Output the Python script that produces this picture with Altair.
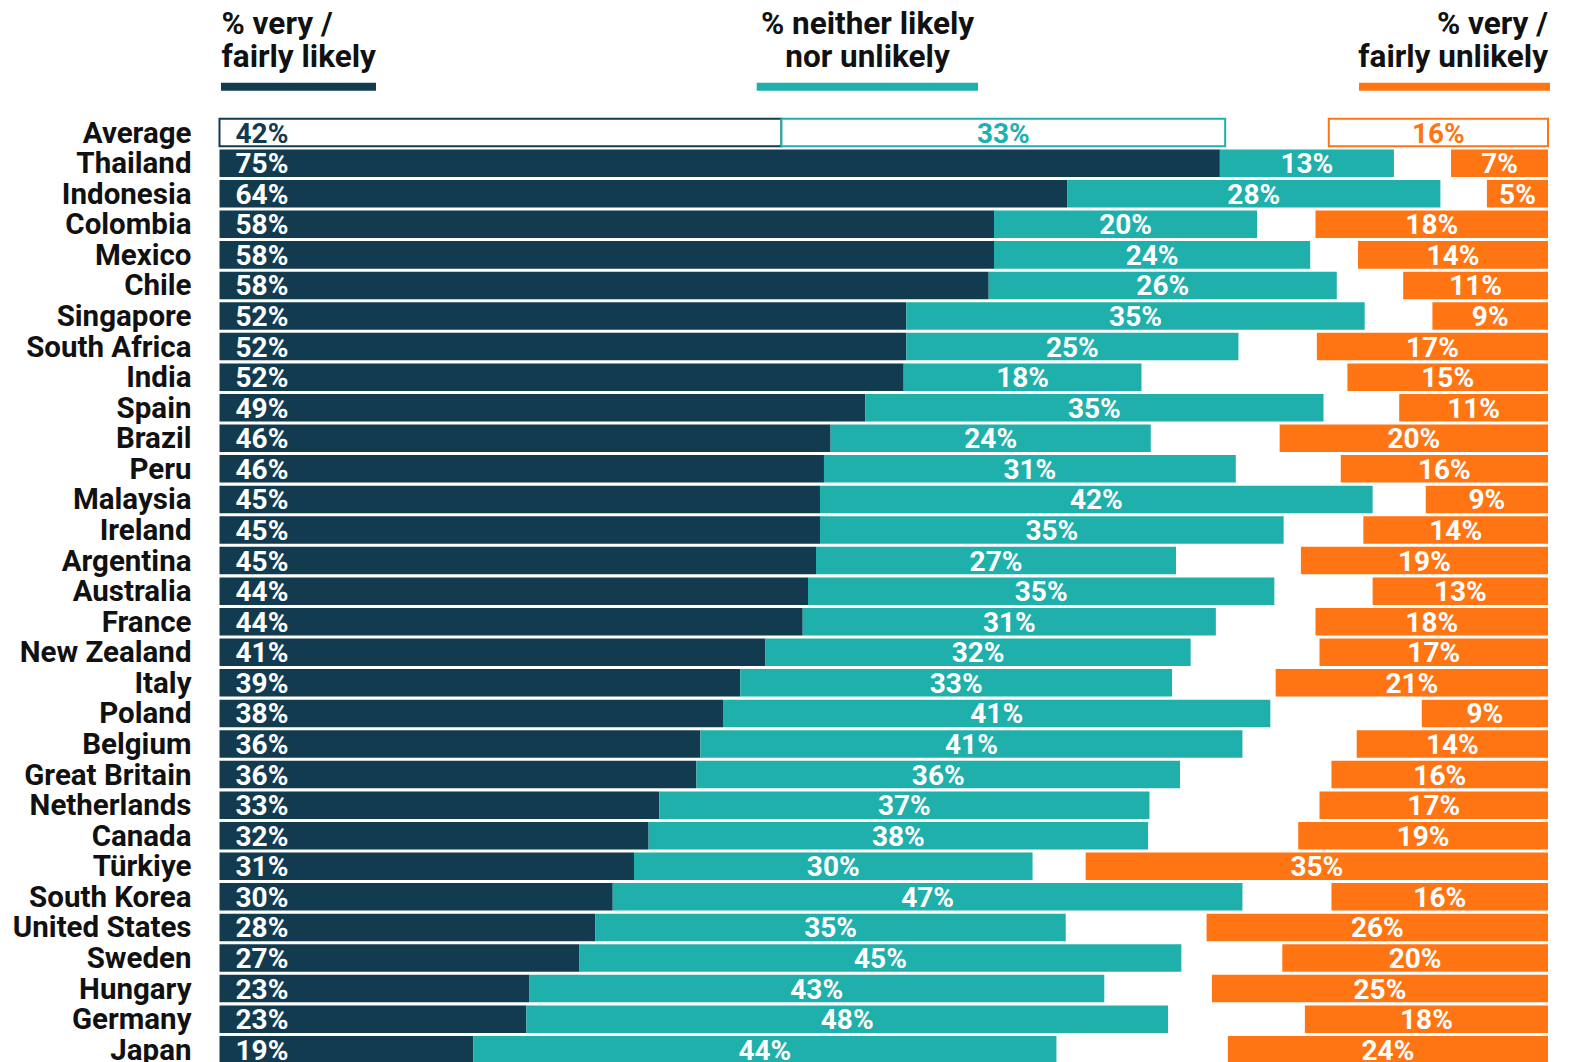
import altair as alt
import pandas as pd

NAVY = "#133b50"
TEAL = "#1fb0ac"
ORANGE = "#ff7514"
FONT = "Roboto"

countries = ["Average", "Thailand", "Indonesia", "Colombia", "Mexico", "Chile", "Singapore",
             "South Africa", "India", "Spain", "Brazil", "Peru", "Malaysia", "Ireland",
             "Argentina", "Australia", "France", "New Zealand", "Italy", "Poland", "Belgium",
             "Great Britain", "Netherlands", "Canada", "Türkiye", "South Korea",
             "United States", "Sweden", "Hungary", "Germany", "Japan"]

# bar lengths (estimated, %)
likely = [42.3, 75.3, 63.8, 58.3, 58.3, 57.9, 51.7, 51.7, 51.5, 48.6, 46.0, 45.5, 45.2, 45.2,
          44.9, 44.3, 43.9, 41.1, 39.2, 37.9, 36.2, 35.9, 33.1, 32.3, 31.2, 29.6, 28.3, 27.1,
          23.3, 23.1, 19.1]
neither = [33.4, 13.1, 28.1, 19.8, 23.8, 26.2, 34.5, 25.0, 17.9, 34.5, 24.1, 31.0, 41.6, 34.9,
           27.1, 35.1, 31.1, 32.0, 32.5, 41.2, 40.8, 36.4, 36.9, 37.6, 30.0, 47.4, 35.4, 45.3,
           43.3, 48.3, 43.9]
unlikely = [16.5, 7.3, 4.6, 17.5, 14.3, 10.9, 8.7, 17.4, 15.1, 11.2, 20.2, 15.6, 9.2, 13.9,
            18.6, 13.2, 17.5, 17.2, 20.5, 9.5, 14.4, 16.3, 17.2, 18.8, 34.8, 16.3, 25.7, 20.0,
            25.3, 18.3, 24.1]

# printed labels
likely_lbl = [42, 75, 64, 58, 58, 58, 52, 52, 52, 49, 46, 46, 45, 45, 45, 44, 44, 41, 39, 38,
              36, 36, 33, 32, 31, 30, 28, 27, 23, 23, 19]
neither_lbl = [33, 13, 28, 20, 24, 26, 35, 25, 18, 35, 24, 31, 42, 35, 27, 35, 31, 32, 33, 41,
               41, 36, 37, 38, 30, 47, 35, 45, 43, 48, 44]
unlikely_lbl = [16, 7, 5, 18, 14, 11, 9, 17, 15, 11, 20, 16, 9, 14, 19, 13, 18, 17, 21, 9, 14,
                16, 17, 19, 35, 16, 26, 20, 25, 18, 24]

header_left = ["% very /\nfairly likely"]
header_mid = ["% neither likely\nnor unlikely"]
header_right = ["% very /\nfairly unlikely"]

cats = ["likely", "neither", "unlikely"]
rows = []
for i, c in enumerate(countries):
    rows.append(dict(country=c, cat="likely", start=0.0, end=likely[i],
                     label=f"{likely_lbl[i]}%"))
    rows.append(dict(country=c, cat="neither", start=likely[i], end=likely[i] + neither[i],
                     label=f"{neither_lbl[i]}%"))
    rows.append(dict(country=c, cat="unlikely", start=100 - unlikely[i], end=100.0,
                     label=f"{unlikely_lbl[i]}%"))
df = pd.DataFrame(rows)
df["mid"] = (df["start"] + df["end"]) / 2

cscale = alt.Scale(domain=cats, range=[NAVY, TEAL, ORANGE])
is_avg = "datum.country === 'Average'"
xscale = alt.Scale(domain=[0, 100], nice=False, zero=False)
yscale = alt.Scale(paddingInner=0.1, paddingOuter=0.05)

y_axis = alt.Y("country:N", sort=countries, title=None, scale=yscale,
               axis=alt.Axis(domain=False, ticks=False, grid=False, labelPadding=28.5,
                             labelFont=FONT, labelFontSize=29.5, labelFontWeight="bold",
                             labelColor="#111111", labelLimit=400, labelBaseline="middle",
                             labelOffset=1))

bars = alt.Chart(df).mark_bar().encode(
    y=y_axis,
    x=alt.X("start:Q", scale=xscale, axis=None),
    x2="end:Q",
    fill=alt.condition(is_avg, alt.value("white"),
                       alt.Fill("cat:N", scale=cscale, legend=None)),
    stroke=alt.Stroke("cat:N", scale=cscale, legend=None),
    strokeWidth=alt.condition(is_avg, alt.value(2), alt.value(0)),
)

text_color = alt.condition(is_avg, alt.Color("cat:N", scale=cscale, legend=None),
                           alt.value("white"))
tstyle = dict(font=FONT, fontSize=28, fontWeight="bold", baseline="middle", dy=2)

left_text = alt.Chart(df).transform_filter("datum.cat === 'likely'").mark_text(
    align="left", dx=16, **tstyle).encode(
    y=y_axis, x=alt.X("start:Q", scale=xscale, axis=None),
    text="label:N", color=text_color)

mid_text = alt.Chart(df).transform_filter("datum.cat !== 'likely'").mark_text(
    align="center", **tstyle).encode(
    y=y_axis, x=alt.X("mid:Q", scale=xscale, axis=None),
    text="label:N", color=text_color)

hstyle = dict(font=FONT, fontSize=31.5, fontWeight="bold", color="#111111",
              baseline="alphabetic", lineBreak="\n", lineHeight=33)


def header(lines, x, align, x1, x2, col):
    d = pd.DataFrame({"t": lines})
    t = alt.Chart(d).mark_text(align=align, **hstyle).encode(
        x=alt.value(x), y=alt.value(-83), text="t:N")
    r = alt.Chart(d).mark_rule(strokeWidth=8, color=col).encode(
        x=alt.value(x1), x2=alt.value(x2), y=alt.value(-30.5))
    return [t, r]


layers = [bars, left_text, mid_text]
layers += header(header_left, 2, "left", 1.5, 156.5, NAVY)
layers += header(header_mid, 648, "center", 537.2, 758.5, TEAL)
layers += header(header_right, 1328.5, "right", 1139.5, 1330.5, ORANGE)

chart = alt.layer(*layers).properties(
    width=1328.5,
    height=947.7,
    autosize=alt.AutoSizeParams(type="none"),
    padding={"left": 211.5, "top": 109.3, "right": 12, "bottom": -3},
).configure_view(stroke=None)

chart.save("out.html", embed_options={"renderer": "svg", "actions": False})
